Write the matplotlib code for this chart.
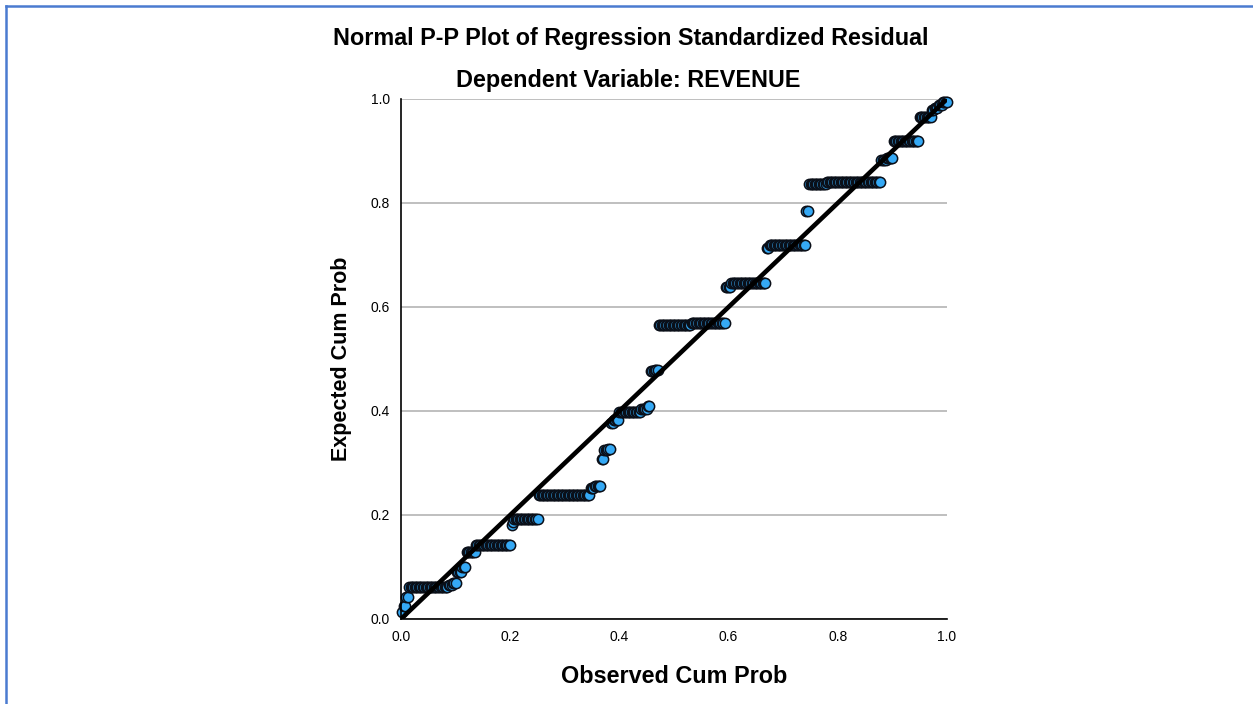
import numpy as np
import matplotlib
matplotlib.use("Agg")
import matplotlib.pyplot as plt
from matplotlib.lines import Line2D

# Tie structure of the standardized residuals: expected cum prob of each tied group
expected_levels = [0.013, 0.025, 0.042, 0.062, 0.066, 0.069, 0.090, 0.100, 0.129, 0.143,
                   0.180, 0.186, 0.192, 0.238, 0.252, 0.256, 0.307, 0.325, 0.327, 0.377,
                   0.383, 0.398, 0.404, 0.409, 0.476, 0.479, 0.565, 0.570, 0.638, 0.646,
                   0.713, 0.720, 0.785, 0.836, 0.841, 0.883, 0.887, 0.919, 0.965, 0.979,
                   0.983, 0.988, 0.994]
# number of cases in each group
group_counts = [1, 2, 2, 29, 3, 3, 4, 3, 7, 26,
                1, 1, 18, 38, 3, 5, 2, 3, 2, 2,
                4, 16, 5, 2, 3, 3, 24, 25, 4, 26,
                2, 27, 2, 13, 40, 4, 5, 19, 9, 2,
                3, 3, 4]
tick_values = [0.0, 0.2, 0.4, 0.6, 0.8, 1.0]
tick_labels = ["0.0", "0.2", "0.4", "0.6", "0.8", "1.0"]

n_cases = sum(group_counts)
expected = np.repeat(expected_levels, group_counts)
observed = np.arange(1, n_cases + 1) / n_cases

plt.rcParams['font.family'] = ['Liberation Sans', 'DejaVu Sans']

fig = plt.figure(figsize=(12.53, 7.04), dpi=100)
ax = fig.add_axes([401 / 1253, 85 / 704, 546 / 1253, 520 / 704])

ax.set_xlim(0, 1)
ax.set_ylim(0, 1)
ax.set_yticks(tick_values)
ax.set_xticks(tick_values)
ax.set_xticklabels(tick_labels)
ax.set_yticklabels(tick_labels)
ax.tick_params(length=0, labelsize=10, pad=8)
ax.yaxis.grid(True, color='#b4b4b4', linewidth=1.2)
ax.set_axisbelow(True)
for s in ['top', 'right']:
    ax.spines[s].set_visible(False)
for s in ['left', 'bottom']:
    ax.spines[s].set_color('black')
    ax.spines[s].set_linewidth(1.2)
    ax.spines[s].set_zorder(5)

ax.plot(observed, expected, linestyle='none', marker='o', markersize=7.4,
        markerfacecolor='#35a9f5', markeredgecolor='#0a0f18', markeredgewidth=1.1,
        zorder=3, clip_on=False)
ax.plot([0, 1], [0, 1], color='black', linewidth=3.3, zorder=4,
        solid_capstyle='butt')

ax.set_xlabel("Observed Cum Prob", fontsize=16.8, fontweight='bold', labelpad=15)
ax.set_ylabel("Expected Cum Prob", fontsize=15.5, fontweight='bold', labelpad=13)

fig.text(631 / 1253, 1 - 39 / 704, "Normal P-P Plot of Regression Standardized Residual",
         ha='center', va='center', fontsize=16.8, fontweight='bold')
fig.text(628 / 1253, 1 - 81 / 704, "Dependent Variable: REVENUE",
         ha='center', va='center', fontsize=16.8, fontweight='bold')

# blue frame (top and left)
fig.add_artist(Line2D([5.5 / 1253, 5.5 / 1253], [0, 1 - 5.5 / 704],
                      color='#4a7bd0', linewidth=1.8, transform=fig.transFigure))
fig.add_artist(Line2D([5.5 / 1253, 1], [1 - 5.5 / 704, 1 - 5.5 / 704],
                      color='#4a7bd0', linewidth=1.8, transform=fig.transFigure))

fig.savefig("out.png", dpi=100)
